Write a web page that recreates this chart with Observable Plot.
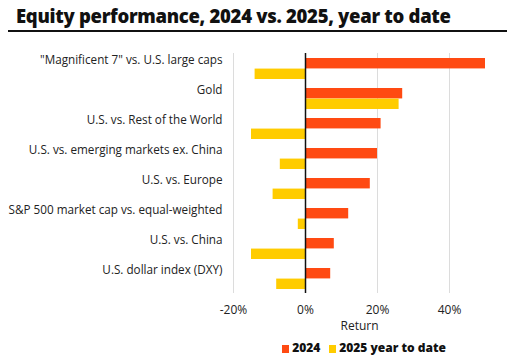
<!DOCTYPE html>
<html>
<head>
<meta charset="utf-8">
<script src="https://cdn.jsdelivr.net/npm/d3@7"></script>
<script src="https://cdn.jsdelivr.net/npm/@observablehq/plot@0.6"></script>
<style>
  html, body { margin: 0; padding: 0; background: #fff; }
  body { width: 514px; height: 356px; overflow: hidden; font-family: "Open Sans", sans-serif; color: #111; }
  #title { margin: 0 7px 0 8px; padding: 5px 0 3px 8px; font-size: 18.5px; font-weight: 800; letter-spacing: -0.3px; border-bottom: 2.5px solid #111; line-height: 22px; height: 22px; }
  #chart { height: 300px; margin-top: 4px; }
  #legend { display: flex; justify-content: center; align-items: center; gap: 9px; font-size: 12px; font-weight: 800; margin-left: 216px; width: 296px; height: 18px; margin-top: 2px; }
  .sw { display: inline-block; width: 7px; height: 8px; margin-right: 3px; vertical-align: -1px; }
</style>
</head>
<body>
<div id="title">Equity performance, 2024 vs. 2025, year to date</div>
<div id="chart"></div>
<div id="legend"></div>
<script>
const categories = [
  "\"Magnificent 7\" vs. U.S. large caps",
  "Gold",
  "U.S. vs. Rest of the World",
  "U.S. vs. emerging markets ex. China",
  "U.S. vs. Europe",
  "S&P 500 market cap vs. equal-weighted",
  "U.S. vs. China",
  "U.S. dollar index (DXY)"
];
const values2024 = [50, 27, 21, 20, 18, 12, 8, 7];
const values2025 = [-14, 26, -15, -7, -9, -2, -15, -8];
const seriesNames = ["2024", "2025 year to date"];
const seriesColors = ["#ff4a12", "#ffcc00"];
const xTicks = [-20, 0, 20, 40];
const xLabel = "Return";

const data = [];
categories.forEach((c, i) => {
  data.push({category: c, series: seriesNames[0], value: values2024[i]});
  data.push({category: c, series: seriesNames[1], value: values2025[i]});
});

const marginTop = 17, marginBottom = 43, height = 300;
const nRows = categories.length, padIn = 0.3, padOut = 0.12;
const step = (height - marginTop - marginBottom) / (nRows - padIn + 2 * padOut);
const half = step * (1 - padIn) / 2;

const chart = Plot.plot({
  width: 514,
  height,
  marginLeft: 233,
  marginRight: 29,
  marginTop,
  marginBottom,
  style: {fontFamily: "Open Sans, sans-serif", fontSize: "12px", color: "#222", background: "#fff"},
  x: {
    domain: [-20, 50],
    ticks: xTicks,
    tickFormat: d => d + "%",
    tickSize: 0,
    tickPadding: 12,
    label: null
  },
  y: {domain: categories, axis: null, paddingInner: padIn, paddingOuter: padOut},
  color: {domain: seriesNames, range: seriesColors},
  marks: [
    Plot.ruleX(xTicks.filter(d => d !== 0), {stroke: "#dcdcdc", strokeWidth: 1}),
    Plot.barX(data.filter(d => d.series === seriesNames[0]), {x: "value", y: "category", fill: "series", insetBottom: half}),
    Plot.barX(data.filter(d => d.series === seriesNames[1]), {x: "value", y: "category", fill: "series", insetTop: half}),
    Plot.ruleX([0], {stroke: "#111", strokeWidth: 1.5}),
    Plot.text(categories, {y: d => d, text: d => d, frameAnchor: "left", textAnchor: "end", dx: -11, dy: -half / 2 - 3, fill: "#222", fontSize: 11.7}),
    Plot.text([xLabel], {frameAnchor: "bottom", lineAnchor: "middle", text: d => d, dy: 33, fill: "#222", fontSize: 12})
  ]
});
document.getElementById("chart").appendChild(chart);

const legend = document.getElementById("legend");
seriesNames.forEach((s, i) => {
  const item = document.createElement("span");
  const sw = document.createElement("span");
  sw.className = "sw";
  sw.style.background = seriesColors[i];
  item.appendChild(sw);
  item.appendChild(document.createTextNode(s));
  legend.appendChild(item);
});
</script>
</body>
</html>
